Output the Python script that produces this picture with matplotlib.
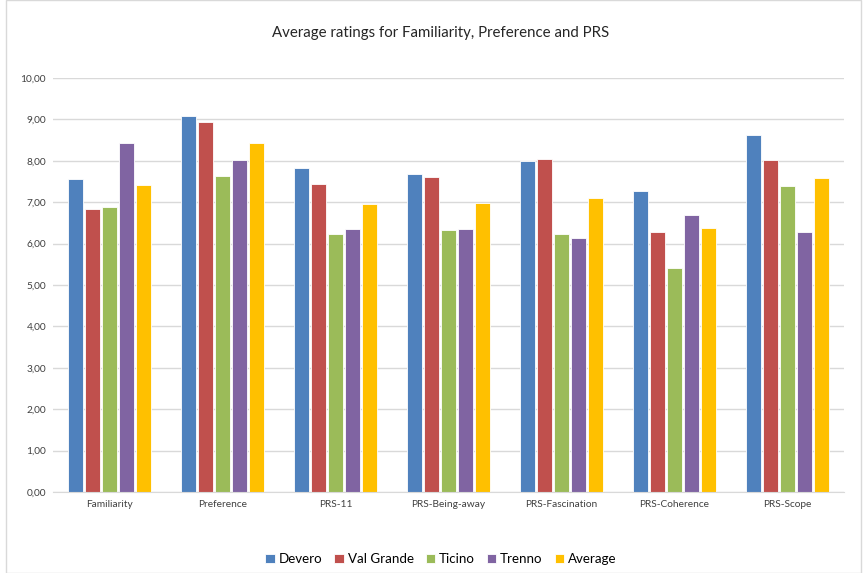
import matplotlib.pyplot as plt
import numpy as np
from matplotlib.patches import Rectangle

plt.rcParams['font.family'] = ['Lato', 'DejaVu Sans']

categories = ["Familiarity", "Preference", "PRS-11", "PRS-Being-away",
              "PRS-Fascination", "PRS-Coherence", "PRS-Scope"]
devero     = [7.55, 9.08, 7.82, 7.67, 7.99, 7.26, 8.63]
val_grande = [6.83, 8.94, 7.43, 7.60, 8.05, 6.27, 8.01]
ticino     = [6.89, 7.64, 6.23, 6.32, 6.23, 5.42, 7.39]
trenno     = [8.44, 8.01, 6.36, 6.36, 6.13, 6.68, 6.27]
average    = [7.41, 8.42, 6.96, 6.98, 7.09, 6.38, 7.58]

series = [("Devero", devero, "#4F81BD"),
          ("Val Grande", val_grande, "#C0504D"),
          ("Ticino", ticino, "#9BBB59"),
          ("Trenno", trenno, "#8064A2"),
          ("Average", average, "#FFC000")]

fig = plt.figure(figsize=(8.63, 5.73), dpi=100)
ax = fig.add_axes([53/863, 81/573, 791/863, 414/573])

x = np.arange(len(categories))
pitch = 0.150
width = 0.138
for i, (name, vals, col) in enumerate(series):
    ax.bar(x + (i - 2) * pitch, vals, width, color=col, label=name,
           edgecolor="white", linewidth=0.6, zorder=3)

ax.set_xlim(-0.5, len(categories) - 0.5)
ax.set_ylim(0, 10)
ax.set_yticks(np.arange(0, 11, 1))
ax.set_yticklabels([("%.2f" % v).replace(".", ",") for v in range(11)],
                   fontsize=7.3, color="#404040")
ax.set_xticks(x)
ax.set_xticklabels(categories, fontsize=7.3, color="#404040")
ax.tick_params(axis="both", length=0, pad=5)
ax.tick_params(axis="x", pad=6)

ax.grid(axis="y", color="#D9D9D9", linewidth=1, zorder=0)
for s in ["top", "right", "left"]:
    ax.spines[s].set_visible(False)
ax.spines["bottom"].set_color("#D9D9D9")
ax.spines["bottom"].set_zorder(4)

fig.text(0.510, 1 - 33/573, "Average ratings for Familiarity, Preference and PRS",
         ha="center", va="center", fontsize=10.8, color="#262626")

leg = fig.legend(loc="center", bbox_to_anchor=(0.511, 1 - 559/573), ncol=5,
                 frameon=False, fontsize=9.6, handlelength=0.7, handleheight=0.7,
                 handletextpad=0.3, columnspacing=0.9)

# chart area border
fig.patches.append(Rectangle((6/863, 0), 855/863, 1, transform=fig.transFigure,
                             fill=False, edgecolor="#D9D9D9", linewidth=1))

fig.savefig("out.png", dpi=100)
